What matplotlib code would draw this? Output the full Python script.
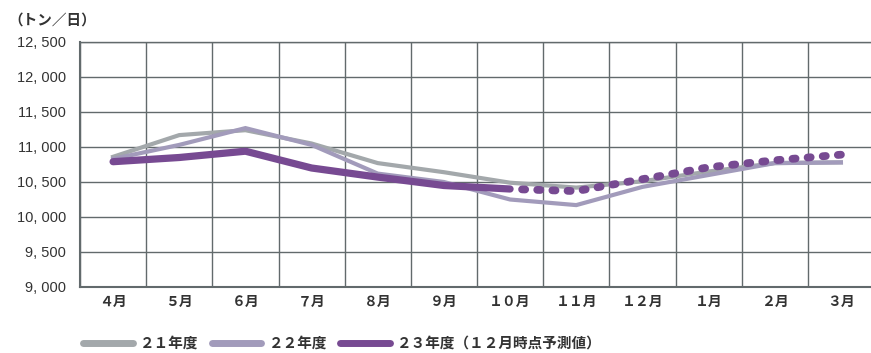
import matplotlib
matplotlib.use('Agg')
import matplotlib.pyplot as plt
from matplotlib.lines import Line2D

plt.rcParams['font.family'] = ['Noto Sans CJK JP', 'DejaVu Sans']

months = ['４月', '５月', '６月', '７月', '８月', '９月', '１０月', '１１月', '１２月', '１月', '２月', '３月']
fy21 = [10860, 11170, 11240, 11050, 10770, 10640, 10490, 10420, 10510, 10650, 10770, 10780]
fy22 = [10830, 11030, 11270, 11030, 10620, 10500, 10250, 10170, 10430, 10600, 10770, 10780]
fy23 = [10790, 10850, 10940, 10700, 10570, 10450, 10400, 10370, 10540, 10710, 10810, 10890]
actual_until = 6  # 10月 までは実績、以降は予測
yticks = [9000, 9500, 10000, 10500, 11000, 11500, 12000, 12500]
legend_labels = ['２１年度', '２２年度', '２３年度（１２月時点予測値）']

c21 = '#a3a8ab'
c22 = '#a29bbb'
c23 = '#774a92'
grid_c = '#626a6c'
txt_c = '#333333'

fig = plt.figure(figsize=(8.71, 3.53), dpi=100)
ax = fig.add_axes([80 / 871, 66 / 353, 794 / 871, 245 / 353])

x = list(range(len(months)))
ax.plot(x, fy21, color=c21, lw=3.0, solid_joinstyle='miter', zorder=3)
ax.plot(x, fy22, color=c22, lw=3.0, solid_joinstyle='miter', zorder=3)
ax.plot(x[:actual_until + 1], fy23[:actual_until + 1], color=c23, lw=5.2,
        solid_capstyle='round', zorder=4)
# 予測部分は3月側から描いて、端に点が来るようにする
ax.plot(x[actual_until:][::-1], fy23[actual_until:][::-1], color=c23, lw=5.6,
        dashes=(0.4, 1.55), dash_capstyle='round', zorder=4)

ax.set_xlim(-0.5, len(months) - 0.5)
ax.set_ylim(9000, 12500)
ax.set_yticks(yticks)
ax.set_yticklabels([f'{v:,}'.replace(',', ', ') for v in yticks],
                   family=['Liberation Sans', 'DejaVu Sans'], fontsize=10.5, color=txt_c)
ax.set_xticks(x)
ax.set_xticklabels(months, fontsize=10, fontweight='bold', color=txt_c)
ax.set_xticks([i - 0.5 for i in range(len(months) + 1)], minor=True)
ax.tick_params(axis='both', which='both', length=0)
ax.tick_params(axis='y', pad=10)
ax.tick_params(axis='x', pad=6)
ax.grid(True, which='minor', axis='x', color=grid_c, lw=1.0)
ax.grid(True, which='major', axis='y', color=grid_c, lw=1.0)
for s in ax.spines.values():
    s.set_color(grid_c)
    s.set_linewidth(1.0)
ax.spines['left'].set_linewidth(1.5)
ax.spines['bottom'].set_linewidth(1.5)

fig.text(8 / 871, 1 - 20 / 353, '（トン／日）', fontsize=10.5, fontweight='bold',
         color=txt_c, va='center', ha='left')

handles = [Line2D([0], [0], color=c, lw=5, solid_capstyle='round') for c in (c21, c22, c23)]
fig.legend(handles, legend_labels, loc='center left', bbox_to_anchor=(70 / 871, 1 - 343 / 353),
           ncol=3, frameon=False, handlelength=3.4, handletextpad=0.5, columnspacing=0.9,
           prop={'size': 10.5, 'weight': 'bold'}, labelcolor=txt_c)

fig.savefig('out.png', dpi=100)
